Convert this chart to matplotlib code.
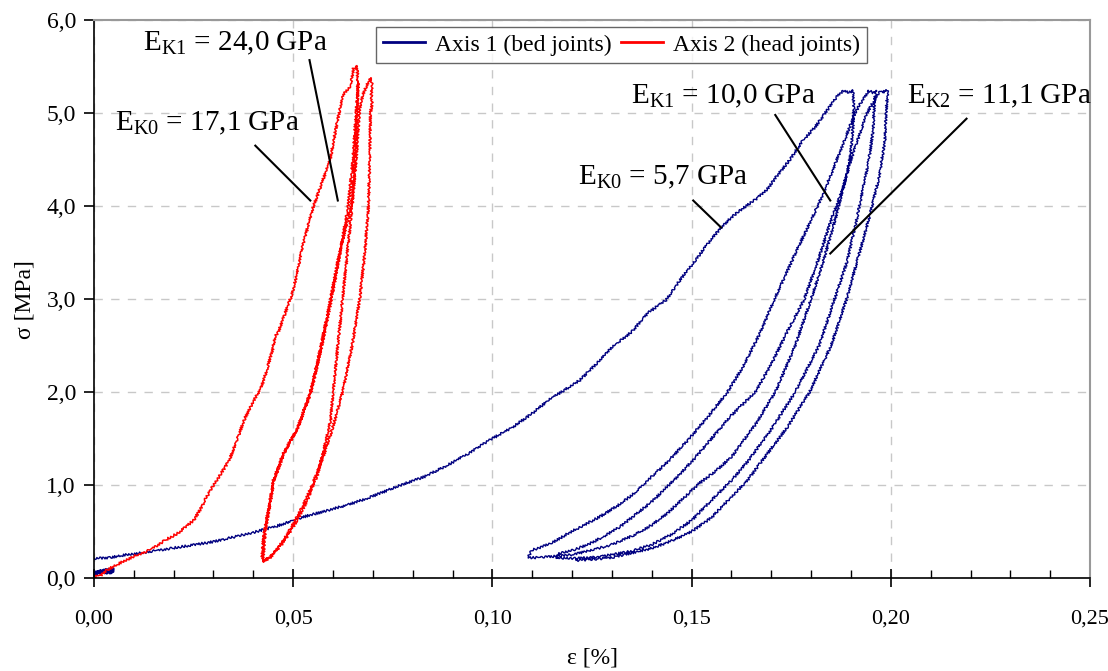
import numpy as np
import matplotlib
matplotlib.use("Agg")
import matplotlib.pyplot as plt
from matplotlib.ticker import MultipleLocator, FuncFormatter

plt.rcParams['font.family'] = ['Liberation Serif', 'DejaVu Serif']
plt.rcParams['mathtext.fontset'] = 'custom'
plt.rcParams['mathtext.rm'] = 'Liberation Serif'
plt.rcParams['mathtext.it'] = 'Liberation Serif:italic'

# ---- Axis 1 (bed joints) : strain [%], stress [MPa] ----
bed_start_eps = [0.000, 0.002, 0.004, 0.005, 0.003, 0.000]
bed_start_sig = [0.05, 0.07, 0.06, 0.09, 0.08, 0.05]

bed_load0_eps = [0.000, 0.004, 0.008, 0.012, 0.018, 0.024, 0.030, 0.035, 0.040, 0.046,
                 0.052, 0.058, 0.064, 0.070, 0.077, 0.083, 0.089, 0.094, 0.100, 0.105,
                 0.110, 0.114, 0.118, 0.122, 0.126, 0.130, 0.135, 0.139, 0.1436, 0.147,
                 0.151, 0.1545, 0.1574, 0.160, 0.163, 0.166, 0.1688, 0.1715, 0.1745, 0.178,
                 0.181, 0.184, 0.1865, 0.188, 0.1895, 0.1905]
bed_load0_sig = [0.21, 0.22, 0.25, 0.27, 0.31, 0.35, 0.39, 0.44, 0.49, 0.56,
                 0.65, 0.72, 0.79, 0.88, 1.00, 1.09, 1.22, 1.34, 1.50, 1.62,
                 1.77, 1.91, 2.02, 2.13, 2.30, 2.48, 2.65, 2.85, 2.99, 3.20,
                 3.42, 3.62, 3.77, 3.88, 3.98, 4.07, 4.17, 4.33, 4.49, 4.71,
                 4.85, 5.03, 5.18, 5.24, 5.22, 5.24]

bed_unload1_eps = [0.1905, 0.1907, 0.1905, 0.1900, 0.1890, 0.186, 0.183, 0.180, 0.176, 0.171,
                   0.166, 0.160, 0.156, 0.152, 0.148, 0.144, 0.140, 0.135, 0.130, 0.125,
                   0.120, 0.115, 0.111, 0.109]
bed_unload1_sig = [5.24, 5.05, 4.85, 4.60, 4.35, 3.85, 3.40, 3.00, 2.50, 2.00,
                   1.65, 1.30, 1.15, 1.02, 0.86, 0.70, 0.57, 0.45, 0.36, 0.30,
                   0.25, 0.23, 0.22, 0.22]

bed_reload1_eps = [0.109, 0.1095, 0.110, 0.1147, 0.119, 0.123, 0.127, 0.1315, 0.1356, 0.139,
                   0.144, 0.149, 0.154, 0.159, 0.163, 0.167, 0.1708, 0.174, 0.177, 0.180,
                   0.183, 0.186, 0.1885, 0.191, 0.193, 0.1945, 0.1955]
bed_reload1_sig = [0.22, 0.27, 0.30, 0.37, 0.48, 0.57, 0.66, 0.78, 0.91, 1.05,
                   1.25, 1.48, 1.73, 2.00, 2.28, 2.62, 3.00, 3.30, 3.58, 3.85,
                   4.13, 4.45, 4.72, 5.00, 5.15, 5.24, 5.22]

bed_unload2_eps = [0.1955, 0.1962, 0.1958, 0.1955, 0.1945, 0.1914, 0.189, 0.1859, 0.182, 0.176,
                   0.170, 0.164, 0.160, 0.156, 0.150, 0.145, 0.140, 0.135, 0.130, 0.125,
                   0.120, 0.116]
bed_unload2_sig = [5.22, 5.25, 5.05, 4.80, 4.50, 3.85, 3.40, 3.00, 2.50, 2.00,
                   1.60, 1.25, 1.05, 0.88, 0.62, 0.47, 0.36, 0.29, 0.25, 0.22,
                   0.21, 0.21]

bed_reload2_eps = [0.116, 0.1165, 0.121, 0.125, 0.128, 0.132, 0.135, 0.140, 0.1455, 0.150,
                   0.155, 0.160, 0.166, 0.170, 0.174, 0.1783, 0.182, 0.185, 0.188, 0.190,
                   0.192, 0.194, 0.196, 0.1975, 0.198]
bed_reload2_sig = [0.21, 0.26, 0.31, 0.38, 0.45, 0.55, 0.65, 0.82, 1.05, 1.25,
                   1.50, 1.75, 2.00, 2.30, 2.65, 3.00, 3.45, 3.85, 4.20, 4.50,
                   4.75, 5.00, 5.15, 5.24, 5.22]

bed_unload3_eps = [0.198, 0.1988, 0.1992, 0.1988, 0.1985, 0.197, 0.1944, 0.1915, 0.1889, 0.185,
                   0.1796, 0.174, 0.168, 0.164, 0.159, 0.155, 0.150, 0.145, 0.140, 0.135,
                   0.130, 0.125, 0.121]
bed_unload3_sig = [5.22, 5.25, 5.23, 5.00, 4.70, 4.30, 3.85, 3.40, 3.00, 2.50,
                   2.00, 1.62, 1.28, 1.05, 0.83, 0.65, 0.50, 0.40, 0.32, 0.27,
                   0.22, 0.20, 0.19]

# ---- Axis 2 (head joints) ----
head_load0_eps = [0.000, 0.0008, 0.0015, 0.003, 0.006, 0.0098, 0.014, 0.018, 0.021, 0.023,
                  0.025, 0.0266, 0.028, 0.030, 0.032, 0.034, 0.036, 0.038, 0.040, 0.042,
                  0.0434, 0.0448, 0.0455, 0.0463, 0.048, 0.0497, 0.051, 0.052, 0.0535, 0.0548,
                  0.0568, 0.0593, 0.0605, 0.0618, 0.0626, 0.0636, 0.0644, 0.0651, 0.0661]
head_load0_sig = [0.00, 0.03, 0.02, 0.08, 0.15, 0.23, 0.30, 0.41, 0.48, 0.55,
                  0.62, 0.73, 0.85, 1.00, 1.13, 1.27, 1.50, 1.73, 1.90, 2.05,
                  2.24, 2.45, 2.60, 2.65, 2.85, 3.05, 3.28, 3.50, 3.75, 3.96,
                  4.20, 4.50, 4.78, 5.06, 5.20, 5.25, 5.28, 5.48, 5.50]

head_unload1_eps = [0.0661, 0.0662, 0.0661, 0.0655, 0.0646, 0.0616, 0.0605, 0.0594, 0.0570, 0.0543,
                    0.0510, 0.0475, 0.0450, 0.0438, 0.0428, 0.0424, 0.0422, 0.0424]
head_unload1_sig = [5.50, 5.25, 5.00, 4.50, 4.00, 3.50, 3.25, 3.00, 2.50, 2.00,
                    1.60, 1.34, 1.05, 0.73, 0.52, 0.35, 0.22, 0.18]

head_reload1_eps = [0.0424, 0.0443, 0.0475, 0.0510, 0.0536, 0.0548, 0.0560, 0.0578, 0.0594, 0.0600,
                    0.0612, 0.0624, 0.0636, 0.0648, 0.0658, 0.0666, 0.0675, 0.0685, 0.0692, 0.0695]
head_reload1_sig = [0.18, 0.23, 0.38, 0.62, 0.84, 0.98, 1.09, 1.40, 1.70, 2.00,
                    2.50, 3.00, 3.50, 4.00, 4.50, 5.00, 5.20, 5.30, 5.36, 5.38]

head_unload2_eps = [0.0695, 0.0699, 0.0696, 0.0698, 0.0694, 0.0692, 0.0689, 0.0680, 0.0667, 0.0648,
                    0.0624, 0.0598, 0.0575, 0.0548, 0.0525, 0.0500, 0.0475, 0.0455, 0.0440, 0.0428,
                    0.0424]
head_unload2_sig = [5.38, 5.30, 5.20, 5.10, 5.00, 4.50, 4.00, 3.50, 3.00, 2.50,
                    2.00, 1.60, 1.30, 1.00, 0.78, 0.58, 0.40, 0.28, 0.21, 0.19,
                    0.18]

head_reload2_eps = [0.0424, 0.0426, 0.0430, 0.0440, 0.0452, 0.0478, 0.0512, 0.0545, 0.0572, 0.0596,
                    0.0618, 0.0638, 0.0650, 0.0658, 0.0664]
head_reload2_sig = [0.18, 0.30, 0.50, 0.75, 1.05, 1.35, 1.62, 2.00, 2.50, 3.00,
                    3.50, 4.00, 4.50, 5.00, 5.35]

# ---- moduli annotations: label, text position, leader line ----
mod_labels = [r'E$_{\mathrm{K1}}$ = 24,0 GPa', r'E$_{\mathrm{K0}}$ = 17,1 GPa',
              r'E$_{\mathrm{K1}}$ = 10,0 GPa', r'E$_{\mathrm{K2}}$ = 11,1 GPa',
              r'E$_{\mathrm{K0}}$ = 5,7 GPa']
mod_text_x = [0.0123, 0.0053, 0.1348, 0.2040, 0.1215]
mod_text_y = [5.68, 4.81, 5.11, 5.11, 4.23]
mod_line_x = [(0.0541, 0.0612), (0.0405, 0.0543), (0.1710, 0.1848), (0.2190, 0.1848), (0.1504, 0.1574)]
mod_line_y = [(5.57, 4.06), (4.65, 4.06), (4.98, 4.06), (4.94, 3.49), (4.06, 3.77)]

BLUE = '#000080'
RED = '#ff0000'


def join(parts):
    out = []
    for p in parts:
        out.extend(p)
    return out


bed_eps = join([bed_load0_eps, bed_unload1_eps, bed_reload1_eps, bed_unload2_eps,
                bed_reload2_eps, bed_unload3_eps])
bed_sig = join([bed_load0_sig, bed_unload1_sig, bed_reload1_sig, bed_unload2_sig,
                bed_reload2_sig, bed_unload3_sig])
head_eps = join([head_load0_eps, head_unload1_eps, head_reload1_eps, head_unload2_eps,
                 head_reload2_eps])
head_sig = join([head_load0_sig, head_unload1_sig, head_reload1_sig, head_unload2_sig,
                 head_reload2_sig])

fig = plt.figure(figsize=(11.08, 6.71), dpi=100)
ax = fig.add_axes([0.0848, 0.1386, 0.8990, 0.8314])

sk = (1.2, 3, 2)
l1, = ax.plot(bed_eps, bed_sig, color=BLUE, lw=1.0, label='Axis 1 (bed joints)')
l0, = ax.plot(bed_start_eps, bed_start_sig, color=BLUE, lw=2.0)
l2, = ax.plot(head_eps, head_sig, color=RED, lw=1.1, label='Axis 2 (head joints)')
for ln in (l1, l0, l2):
    ln.set_sketch_params(*sk)

for lab, tx, ty, lx, ly in zip(mod_labels, mod_text_x, mod_text_y, mod_line_x, mod_line_y):
    ax.plot(lx, ly, color='black', lw=1.5)
    ax.text(tx, ty, lab, fontsize=21, va='baseline', ha='left', clip_on=False)

ax.set_xlim(0, 0.25)
ax.set_ylim(0, 6)
ax.xaxis.set_major_locator(MultipleLocator(0.05))
ax.xaxis.set_minor_locator(MultipleLocator(0.01))
ax.yaxis.set_major_locator(MultipleLocator(1.0))
ax.xaxis.set_major_formatter(FuncFormatter(lambda v, p: f'{v:.2f}'.replace('.', ',')))
ax.yaxis.set_major_formatter(FuncFormatter(lambda v, p: f'{v:.1f}'.replace('.', ',')))

ax.grid(True, which='major', color='#c8c8c8', linestyle=(0, (6, 6)), lw=1.0)
ax.set_axisbelow(True)

ax.tick_params(axis='x', which='major', direction='inout', length=13, width=1.2,
               labelsize=16, pad=16, colors='black')
ax.tick_params(axis='x', which='minor', direction='in', length=6, width=1.0)
ax.tick_params(axis='y', which='major', direction='out', length=7, width=1.2,
               labelsize=17, pad=6)

for s in ('left', 'bottom'):
    ax.spines[s].set_color('black')
    ax.spines[s].set_linewidth(1.2)
for s in ('top', 'right'):
    ax.spines[s].set_color('#999999')
    ax.spines[s].set_linewidth(1.5)

ax.set_xlabel('ε [%]', fontsize=17, labelpad=14)
ax.set_ylabel('σ [MPa]', fontsize=17, labelpad=8)

leg = ax.legend(handles=[l1, l2], loc='upper left', bbox_to_anchor=(0.283, 0.9875), ncol=2,
                fontsize=17, frameon=True, fancybox=False, edgecolor='#404040',
                handlelength=1.8, handletextpad=0.4, columnspacing=0.4,
                borderpad=0.3, borderaxespad=0)
leg.get_frame().set_linewidth(1.0)
for h in leg.legend_handles:
    h.set_sketch_params(None)
    h.set_linewidth(2.0)

fig.savefig('out.png', dpi=100, facecolor='white')
